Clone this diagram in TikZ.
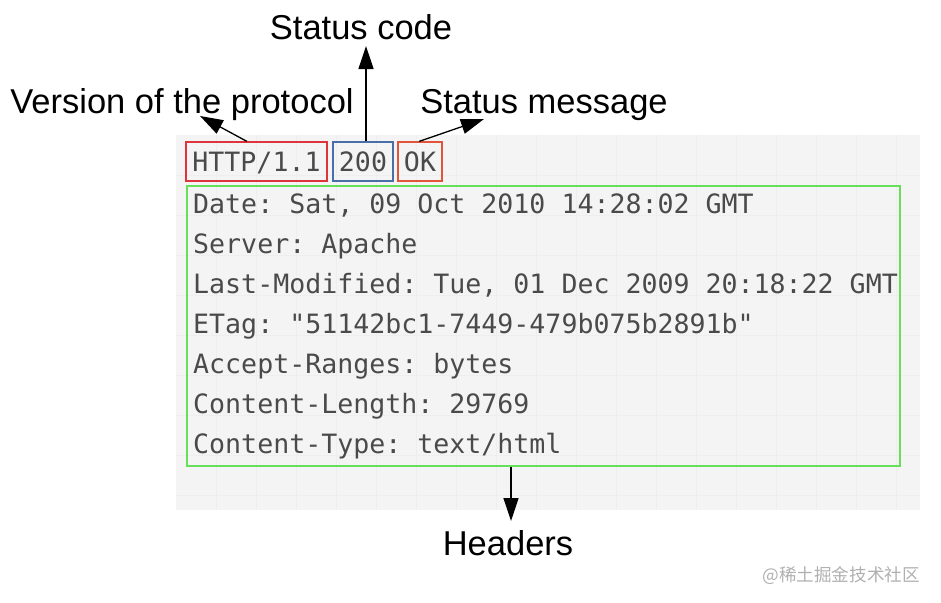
\documentclass[tikz,border=0pt]{standalone}
\usepackage{fontspec}
\setmainfont{Liberation Sans}
\newfontfamily\monofont{DejaVu Sans Mono}
\newfontfamily\cjkfont{Noto Sans CJK SC}
\usetikzlibrary{arrows.meta}
\frenchspacing
\definecolor{panelbg}{HTML}{F4F4F4}
\definecolor{gridc}{HTML}{EEEEEE}
\definecolor{txtc}{HTML}{4A4A4A}
\definecolor{redc}{HTML}{E0343C}
\definecolor{bluec}{HTML}{4A6FA8}
\definecolor{okc}{HTML}{E2553A}
\definecolor{greenc}{HTML}{66E05A}
\definecolor{wmc}{HTML}{B0B0B0}
\tikzset{
  mono/.style={font=\monofont\frenchspacing\fontsize{26.6}{26.6}\selectfont, text=txtc, inner sep=0pt, text height=19.4pt, text depth=0pt},
  wordbox/.style={mono, draw, line width=1.1pt, minimum height=39pt, inner sep=0pt},
  line/.style={mono, anchor=base west},
  label/.style={font=\fontsize{34.5}{34.5}\selectfont, text=black, inner sep=0pt, anchor=base},
  arr/.style={line width=1.3pt, -{Triangle[length=23pt,width=15pt]}},
}
\begin{document}
\begin{tikzpicture}[x=1pt,y=-1pt]
\useasboundingbox (0,0) rectangle (941,602);
% panel
\fill[panelbg] (176,135) rectangle (920,510);
\foreach \gx in {216,256,...,900} \draw[gridc,line width=0.6pt] (\gx,135) -- (\gx,510);
\foreach \gy in {175,215,...,500} \draw[gridc,line width=0.6pt] (176,\gy) -- (920,\gy);
% status line boxes
\node[wordbox, draw=redc, minimum width=141pt] (http) at (256.5,161.5) {HTTP/1.1};
\node[wordbox, draw=bluec, minimum width=60pt] (code) at (363,161.5) {200};
\node[wordbox, draw=okc, minimum width=44pt] (ok) at (420,161.5) {OK};
% headers box
\node[draw=greenc, line width=1.1pt, minimum width=713pt, minimum height=280pt, inner sep=0pt] (hdrs) at (543.5,326) {};
\node[line] (l1) at (193,213) {Date: Sat, 09 Oct 2010 14:28:02 GMT};
\node[line] (l2) at (193,253) {Server: Apache};
\node[line] (l3) at (193,293) {Last-Modified: Tue, 01 Dec 2009 20:18:22 GMT};
\node[line] (l4) at (193,333) {ETag: "51142bc1-7449-479b075b2891b"};
\node[line] (l5) at (193,373) {Accept-Ranges: bytes};
\node[line] (l6) at (193,413) {Content-Length: 29769};
\node[line] (l7) at (193,453) {Content-Type: text/html};
% labels
\node[label] (sc) at (361,40) {Status code};
\node[label] (ver) at (182,113) {Version of the protocol};
\node[label] (msg) at (544,113) {Status message};
\node[label] (hd) at (508,555) {Headers};
% arrow tips
\coordinate (sctip) at (366,46);
\coordinate (vtip) at (200,116);
\coordinate (mtip) at (484,119);
\coordinate (htip) at (511,521);
\draw[arr] ([xshift=3pt]code.north) -- (sctip);
\draw[arr] ([xshift=-9.5pt]http.north) -- (vtip);
\draw[arr] ([xshift=-1pt]ok.north) -- (mtip);
\draw[arr] ([xshift=-32.5pt]hdrs.south) -- (htip);
% watermark
\node[font=\cjkfont\fontsize{17.6}{17.6}\selectfont, text=wmc, anchor=base east, inner sep=0pt] (wm) at (920,581) {@稀土掘金技术社区};
\end{tikzpicture}
\end{document}
